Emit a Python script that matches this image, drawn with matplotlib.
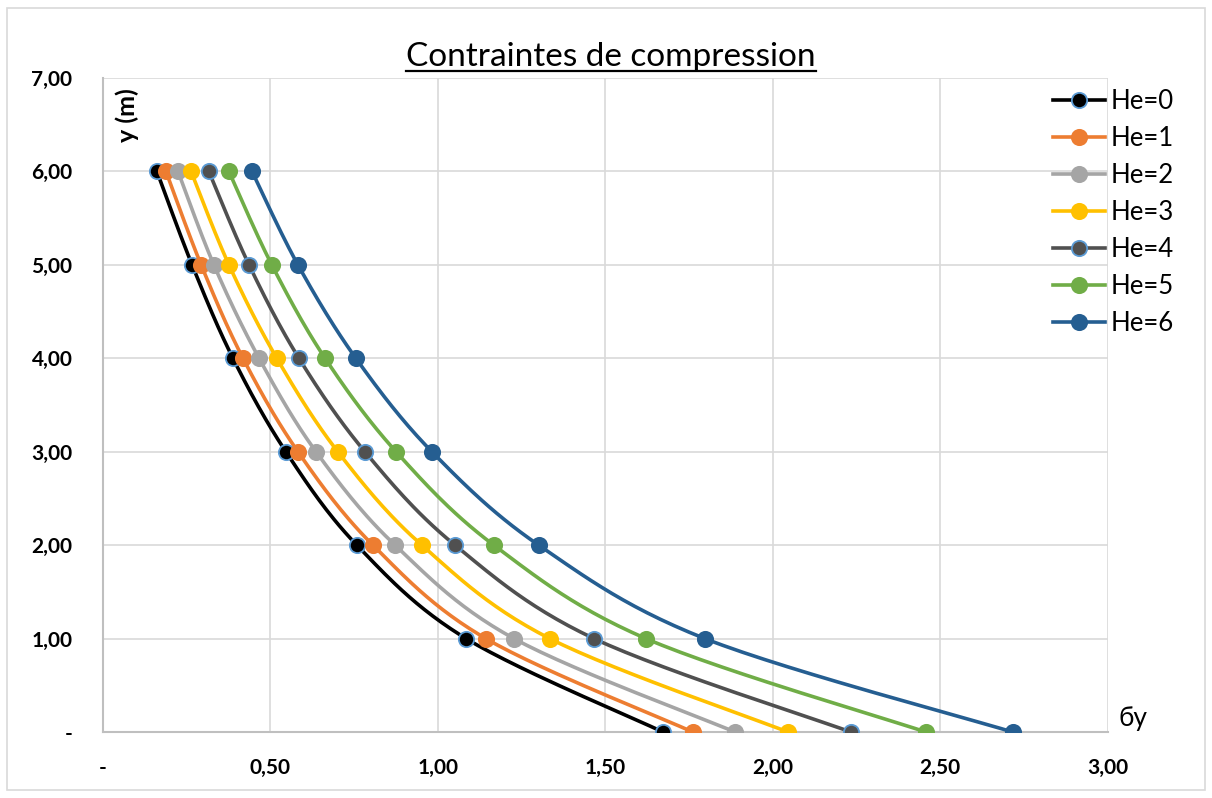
import numpy as np
import matplotlib.pyplot as plt
from matplotlib.patches import Rectangle

plt.rcParams['font.family'] = ['Lato', 'DejaVu Sans']

# Données
y_vals = [0, 1, 2, 3, 4, 5, 6]
he0 = [1.672, 1.084, 0.758, 0.546, 0.388, 0.266, 0.161]
he1 = [1.761, 1.143, 0.806, 0.582, 0.418, 0.293, 0.188]
he2 = [1.887, 1.227, 0.872, 0.636, 0.466, 0.331, 0.224]
he3 = [2.045, 1.334, 0.952, 0.701, 0.519, 0.376, 0.263]
he4 = [2.233, 1.466, 1.051, 0.782, 0.585, 0.436, 0.316]
he5 = [2.457, 1.621, 1.167, 0.875, 0.663, 0.504, 0.376]
he6 = [2.716, 1.797, 1.301, 0.982, 0.755, 0.582, 0.445]
series = [he0, he1, he2, he3, he4, he5, he6]
labels = ["He=0", "He=1", "He=2", "He=3", "He=4", "He=5", "He=6"]
colors = ["#000000", "#ED7D31", "#A5A5A5", "#FFC000", "#505050", "#70AD47", "#255E91"]
edges = ["#5B9BD5", "#ED7D31", "#A5A5A5", "#FFC000", "#5B9BD5", "#70AD47", "#255E91"]

x_ticks = [0, 0.5, 1.0, 1.5, 2.0, 2.5, 3.0]
x_ticklabels = ["-", "0,50", "1,00", "1,50", "2,00", "2,50", "3,00"]
y_ticks = [0, 1, 2, 3, 4, 5, 6, 7]
y_ticklabels = ["-", "1,00", "2,00", "3,00", "4,00", "5,00", "6,00", "7,00"]


def smooth(x, y, n=30):
    # courbe lissée type Excel (Bezier / Catmull-Rom)
    p = np.column_stack([x, y])
    p = np.vstack([p[0], p, p[-1]])
    out = []
    t = np.linspace(0, 1, n)[:, None]
    for i in range(1, len(p) - 2):
        p0, p1, p2, p3 = p[i - 1], p[i], p[i + 1], p[i + 2]
        c1 = p1 + (p2 - p0) / 6
        c2 = p2 - (p3 - p1) / 6
        seg = (1 - t)**3 * p1 + 3 * (1 - t)**2 * t * c1 + 3 * (1 - t) * t**2 * c2 + t**3 * p2
        out.append(seg)
    out = np.vstack(out)
    return out[:, 0], out[:, 1]


fig = plt.figure(figsize=(12.12, 7.98), dpi=100)
ax = fig.add_axes([0.085, 0.0827, 0.829, 0.8195])

for s, lab, c, e in zip(series, labels, colors, edges):
    xs, ys = smooth(s, y_vals)
    ax.plot(xs, ys, color=c, lw=2.6, zorder=3)
    ax.plot(s, y_vals, 'o', color=c, mec=e, mew=1.3, ms=11, zorder=4)
    ax.plot([], [], '-o', color=c, mec=e, mew=1.3, ms=11, lw=2.6, label=lab)

ax.set_xlim(0, 3)
ax.set_ylim(0, 7)
ax.set_xticks(x_ticks)
ax.set_xticklabels(x_ticklabels, fontweight='bold', fontsize=15)
ax.set_yticks(y_ticks)
ax.set_yticklabels(y_ticklabels, fontweight='bold', fontsize=15)
ax.tick_params(axis='y', length=0, pad=22)
ax.tick_params(axis='x', length=0, pad=19)
ax.grid(color="#D9D9D9", lw=1.2)
for sp in ["top", "right"]:
    ax.spines[sp].set_visible(False)
for sp in ["left", "bottom"]:
    ax.spines[sp].set_color("#BFBFBF")
    ax.spines[sp].set_linewidth(1.5)

ax.text(0.024, 0.985, "y (m)", transform=ax.transAxes, rotation=90,
        ha='center', va='top', fontsize=18, fontweight='bold')
ax.text(1.025, 0.02, "бy", transform=ax.transAxes, ha='center', va='center', fontsize=19)

leg = fig.legend(loc='upper left', bbox_to_anchor=(0.869, 0.889), frameon=False,
                 fontsize=18.5, handlelength=2.0, handletextpad=0.25, labelspacing=0.47,
                 borderpad=0, borderaxespad=0)

title = fig.text(0.504, 0.928, "Contraintes de compression", ha='center', va='center', fontsize=24)
fig.canvas.draw()
bb = title.get_window_extent().transformed(fig.transFigure.inverted())
fig.add_artist(plt.Line2D([bb.x0, bb.x1], [bb.y0 + 0.002, bb.y0 + 0.002], color='black', lw=1.6))

fig.add_artist(Rectangle((0.006, 0.01), 0.988, 0.98, transform=fig.transFigure,
                         fill=False, edgecolor="#D9D9D9", lw=1.2))

fig.savefig("out.png", dpi=100)
